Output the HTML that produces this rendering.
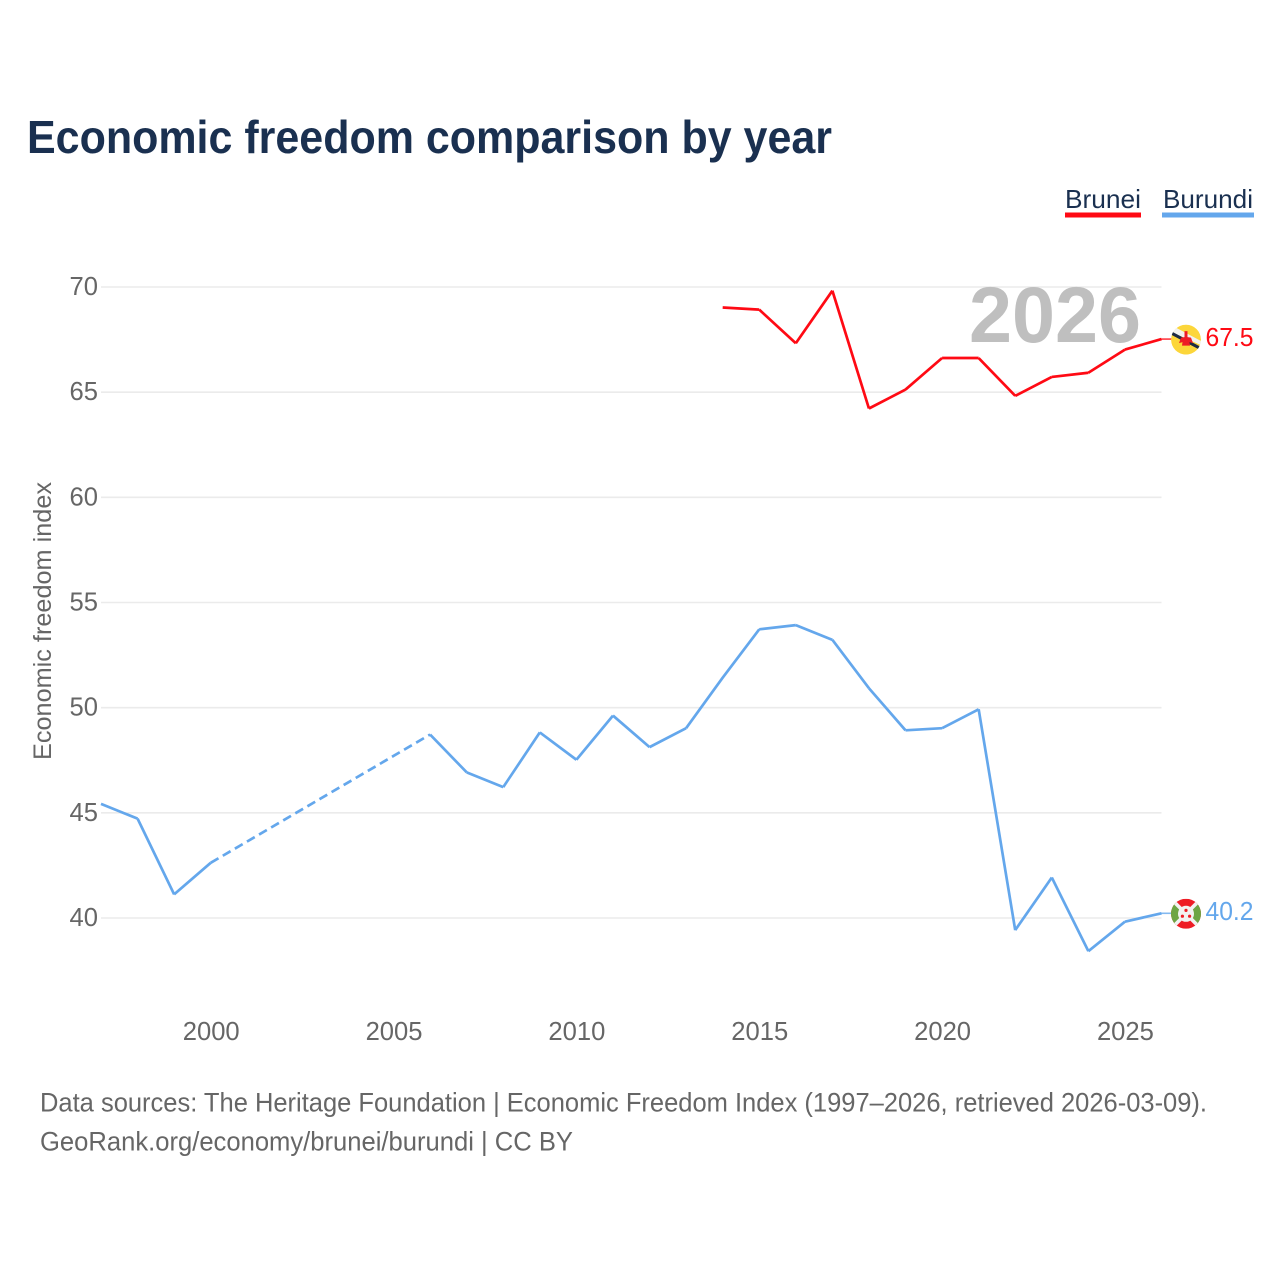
<!DOCTYPE html>
<html lang="en">
<head>
<meta charset="utf-8">
<title>Economic freedom comparison by year</title>
<style>
html,body{margin:0;padding:0;background:#fff;}
svg{display:block;font-family:"Liberation Sans",Arial,sans-serif;}
</style>
</head>
<body>
<svg id="chart" xmlns="http://www.w3.org/2000/svg" width="1280" height="1280" viewBox="0 0 1280 1280">
  <rect x="0" y="0" width="1280" height="1280" fill="#ffffff"/>
  <text x="27" y="153" font-size="46" font-weight="700" fill="#1a3050" textLength="805" lengthAdjust="spacingAndGlyphs">Economic freedom comparison by year</text>

  <g>
    <g>
      <text x="1065" y="208" font-size="26" fill="#1a3050" textLength="76" lengthAdjust="spacingAndGlyphs">Brunei</text>
      <rect x="1065" y="212.5" width="76" height="5" fill="#ff0a14"/>
    </g>
    <g>
      <text x="1163" y="208" font-size="26" fill="#1a3050" textLength="90" lengthAdjust="spacingAndGlyphs">Burundi</text>
      <rect x="1162" y="212.5" width="92" height="5" fill="#64a7ec"/>
    </g>
  </g>

  <g id="grid"></g>
  <g id="yticks"></g>
  <g id="xticks"></g>

  <text transform="translate(51 760) rotate(-90)" x="0" y="0" font-size="25" fill="#666666" textLength="278" lengthAdjust="spacingAndGlyphs">Economic freedom index</text>

  <text id="year-watermark" x="969" y="342" font-size="79" font-weight="700" fill="#bfbfbf" textLength="172" lengthAdjust="spacingAndGlyphs">2026</text>

  <g id="series"></g>

  <g id="flag-brunei">
    <clipPath id="brunei-clip"><circle cx="0" cy="0" r="15"/></clipPath>
    <g clip-path="url(#brunei-clip)">
      <circle cx="0" cy="0" r="15" fill="#fcd63a"/>
      <polygon points="-16,-12 -12,-13 16,2 16,6 -16,-8" fill="#f2f2ee"/>
      <polygon points="-16,-9 -16,-5.5 16,11.5 16,8" fill="#1c2a44"/>
    </g>
    <path d="M-1.5,-8.5 L1.5,-8.5 L1.5,-2.5 L5,-2 L7,3.5 L3.5,2.5 L4,6 L-4,6 L-3.5,2.5 L-7,3.5 L-5,-2 L-1.5,-2.5 Z" fill="#ee1c25"/>
  </g>
  <g id="flag-burundi">
    <clipPath id="burundi-clip"><circle cx="0" cy="0" r="15"/></clipPath>
    <g clip-path="url(#burundi-clip)">
      <rect x="-15" y="-15" width="30" height="30" fill="#ee1c25"/>
      <polygon points="-15,-15 0,0 -15,15" fill="#6da544"/>
      <polygon points="15,-15 0,0 15,15" fill="#6da544"/>
      <line x1="-15" y1="-15" x2="15" y2="15" stroke="#f2f2f2" stroke-width="3.6"/>
      <line x1="-15" y1="15" x2="15" y2="-15" stroke="#f2f2f2" stroke-width="3.6"/>
      <circle cx="0" cy="0" r="8" fill="#f2f2f2"/>
      <circle cx="0" cy="-3.4" r="1.6" fill="#ee1c25"/>
      <circle cx="-3.6" cy="2.4" r="1.6" fill="#ee1c25"/>
      <circle cx="3.6" cy="2.4" r="1.6" fill="#ee1c25"/>
    </g>
  </g>

  <text x="40" y="1111.5" font-size="26.5" fill="#666666" textLength="1167" lengthAdjust="spacingAndGlyphs">Data sources: The Heritage Foundation | Economic Freedom Index (1997–2026, retrieved 2026-03-09).</text>
  <text x="40" y="1150.5" font-size="26.5" fill="#666666" textLength="533" lengthAdjust="spacingAndGlyphs">GeoRank.org/economy/brunei/burundi | CC BY</text>
</svg>

<script>
const years = [1997,1998,1999,2000,2001,2002,2003,2004,2005,2006,2007,2008,2009,2010,2011,2012,2013,2014,2015,2016,2017,2018,2019,2020,2021,2022,2023,2024,2025,2026];
const bruneiValues = [null,null,null,null,null,null,null,null,null,null,null,null,null,null,null,null,null,69.0,68.9,67.3,69.8,64.2,65.1,66.6,66.6,64.8,65.7,65.9,67.0,67.5];
const burundiValues = [45.4,44.7,41.1,42.6,null,null,null,null,null,48.7,46.9,46.2,48.8,47.5,49.6,48.1,49.0,51.4,53.7,53.9,53.2,50.9,48.9,49.0,49.9,39.4,41.9,38.4,39.8,40.2];
const yTickLabels = [40,45,50,55,60,65,70];
const xTickLabels = [2000,2005,2010,2015,2020,2025];

const NS = 'http://www.w3.org/2000/svg';
const plotLeft = 101, plotRight = 1161.5;
const xScale = function (yr) { return plotLeft + (yr - years[0]) * (plotRight - plotLeft) / (years[years.length - 1] - years[0]); };
const yScale = function (v) { return 918 - (v - 40) * (918 - 287) / 30; };
const lineOffset = -0.5;

function make(tag, parent, attrs) {
  const el = document.createElementNS(NS, tag);
  Object.keys(attrs).forEach(function (k) { el.setAttribute(k, attrs[k]); });
  parent.appendChild(el);
  return el;
}

const gridG = document.getElementById('grid');
const yG = document.getElementById('yticks');
const xG = document.getElementById('xticks');
const seriesG = document.getElementById('series');

yTickLabels.forEach(function (t) {
  const line = make('line', gridG, { x1: plotLeft, x2: plotRight, y1: yScale(t), y2: yScale(t), stroke: '#ebebeb', 'stroke-width': 1.6 });
  
  
  const label = make('text', yG, { x: 98, y: yScale(t) + 8, 'text-anchor': 'end', 'font-size': 25.6, fill: '#666666' });
  
  
  label.textContent = t;
});

xTickLabels.forEach(function (t) {
  const label = make('text', xG, { x: xScale(t) + 0.5, y: 1040, 'text-anchor': 'middle', 'font-size': 25.6, fill: '#666666' });
  
  
  label.textContent = t;
});

function drawSeries(values, color, key) {
  const present = [];
  values.forEach(function (v, i) { if (v !== null) present.push(i); });

  let solid = '';
  let dashed = '';
  for (let n = 1; n < present.length; n++) {
    const a = present[n - 1], b = present[n];
    const ya = yScale(values[a]) + lineOffset, yb = yScale(values[b]) + lineOffset;
    const seg = 'M' + xScale(years[a]) + ',' + ya + 'L' + xScale(years[b]) + ',' + yb;
    if (b - a === 1) { solid += seg; } else { dashed += seg; }
  }

  if (dashed) {
    const d = make('path', seriesG, { d: dashed, fill: 'none', stroke: color, 'stroke-width': 2.7, 'stroke-dasharray': '9 5' });
    
    
  }
  const s = make('path', seriesG, { d: solid, fill: 'none', stroke: color, 'stroke-width': 2.7, 'stroke-linejoin': 'miter' });
  
  

  const last = values[present[present.length - 1]];
  const lastY = yScale(last) + lineOffset;
  const tail = make('line', seriesG, { x1: plotRight, x2: 1172, y1: lastY, y2: lastY, stroke: color, 'stroke-width': 1.6, 'stroke-opacity': 0.8 });
  
  

  const endLabel = make('text', seriesG, { x: 1205.5, y: yScale(last) + 6.2, 'font-size': 25.6, fill: color, textLength: 48, lengthAdjust: 'spacingAndGlyphs' });
  
  
  endLabel.textContent = last.toFixed(1);

  document.getElementById('flag-' + key).setAttribute('transform', 'translate(1186 ' + yScale(last) + ')');
}

drawSeries(burundiValues, '#64a7ec', 'burundi');
drawSeries(bruneiValues, '#ff0a14', 'brunei');
</script>
</body>
</html>
